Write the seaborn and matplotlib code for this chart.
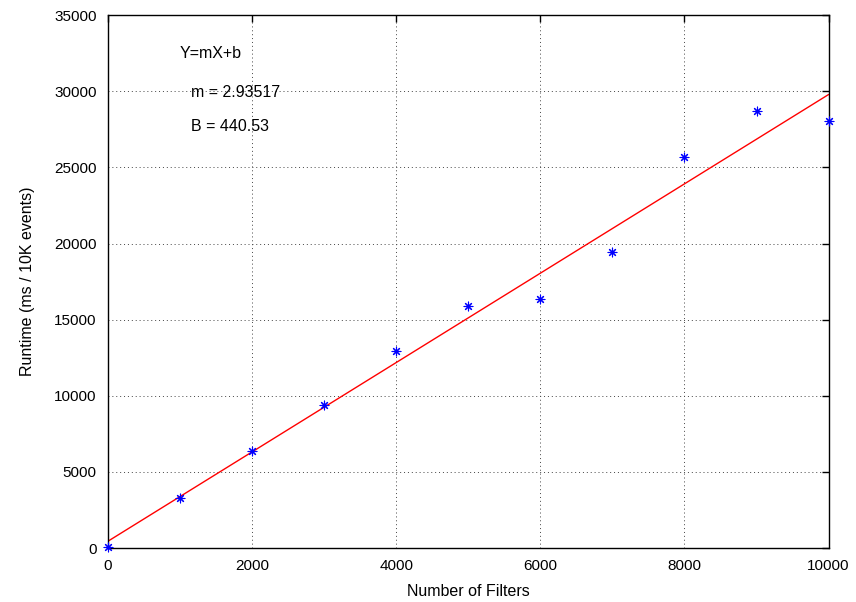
import numpy as np
import pandas as pd
import matplotlib
matplotlib.use("Agg")
import matplotlib.pyplot as plt
import seaborn as sns

# data
filters = [0, 1000, 2000, 3000, 4000, 5000, 6000, 7000, 8000, 9000, 10000]
runtime = [50, 3300, 6380, 9400, 12950, 15880, 16350, 19420, 25700, 28720, 28060]
slope = 2.93517
intercept = 440.53

sns.set_style("white")
plt.rcParams['font.family'] = ['Liberation Sans', 'DejaVu Sans']
plt.rcParams['text.color'] = 'black'

df = pd.DataFrame({'filters': filters, 'runtime': runtime})
fit_x = np.array([0, 10000])
fit = pd.DataFrame({'x': fit_x, 'y': slope * fit_x + intercept})

fig = plt.figure(figsize=(8.56, 6.02), dpi=100)
ax = fig.add_axes([0.126, 0.0897, 0.842, 0.885])

sns.lineplot(data=fit, x='x', y='y', color='red', linewidth=1, ax=ax)
sns.scatterplot(data=df, x='filters', y='runtime', marker=(8, 2, 0), color='blue',
                s=40, linewidth=0.8, ax=ax, zorder=3, clip_on=False)

ax.set_xlim(0, 10000)
ax.set_ylim(0, 35000)
ax.set_xticks(range(0, 10001, 2000))
ax.set_yticks(range(0, 35001, 5000))
ax.grid(True, color='#444444', linestyle=(0, (1, 3)), linewidth=0.7)
ax.tick_params(direction='in', top=True, right=True, length=5, width=1,
               labelsize=11, colors='black', pad=8)
for s in ax.spines.values():
    s.set_color('black')
    s.set_linewidth(1)

ax.set_xlabel('Number of Filters', fontsize=11.5, color='black', labelpad=8)
ax.set_ylabel('Runtime (ms / 10K events)', fontsize=11.5, color='black', labelpad=14)

ax.text(1000, 32500, 'Y=mX+b', fontsize=11.5, va='center')
ax.text(1150, 29900, 'm = 2.93517', fontsize=11.5, va='center')
ax.text(1150, 27700, 'B = 440.53', fontsize=11.5, va='center')

fig.savefig('out.png', dpi=100)
